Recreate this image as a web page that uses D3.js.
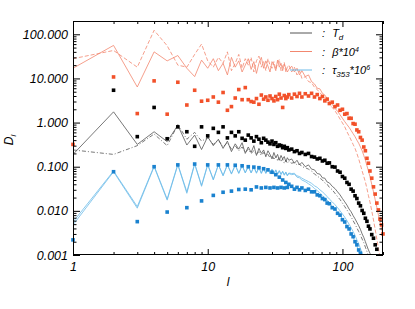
<!DOCTYPE html>
<html><head><meta charset="utf-8">
<script src="https://cdn.jsdelivr.net/npm/d3@7"></script>
<style>
body{margin:0;background:#fff}
svg{display:block}
text{font-family:"Liberation Sans",Arial,sans-serif;font-style:italic;fill:#000}
</style>
</head><body>
<svg id="c" width="415" height="309"></svg>
<script>
// multipole l sampled values
const ells = [1,2,3,4,5,6,7,8,9,10,11,12,13,14,15,16,17,18,19,20,21,22,23,24,25,26,27,28,29,30,31,32,33,34,35,36,37,38,39,40,
  42,44,46,48,50,53,56,59,62,65,
  68,71,74,77,80,84,88,92,96,100,
  104,108,112,116,120,124,128,132,136,140,
  144,148,152,156,160,165,170,175,180,185,
  190,195,200];

// T_d : solid line, dash-dot line, squares
const tdLine = [0.19,1.75,0.32,0.62,0.37,0.87,0.31,0.52,0.245,0.48,
  0.30,0.42,0.26,0.38,0.22,0.33,0.25,0.35,0.20,0.28,
  0.21,0.30,0.18,0.26,0.20,0.24,0.17,0.23,0.19,0.15,
  0.21,0.16,0.19,0.14,0.18,0.15,0.17,0.13,0.16,0.14,
  0.15,0.12,0.14,0.11,0.125,0.10,0.11,0.088,0.085,0.07,
  0.068,0.056,0.055,0.045,0.043,0.036,0.032,0.027,0.023,0.019,
  0.016,0.0135,0.011,0.0095,0.0078,0.0066,0.0055,0.0046,0.0038,0.003,
  0.0025,0.002,0.0016,0.0013,0.0011,0.00085,null,null,null,null,
  null,null,null];
const tdDash = [0.24,0.19,0.30,0.55,0.30,0.90,0.42,0.60,0.38,0.45,
  0.32,0.40,0.28,0.35,0.25,0.30,0.23,0.28,0.21,0.25,
  0.20,0.23,0.19,0.22,0.18,0.21,0.17,0.19,0.16,0.18,
  0.15,0.17,0.14,0.16,0.13,0.15,0.12,0.14,0.12,0.13,
  0.12,0.125,0.11,0.115,0.10,0.095,0.088,0.08,0.068,0.062,
  0.055,0.05,0.043,0.04,0.034,0.03,0.025,0.021,0.018,0.015,
  0.0125,0.0105,0.0088,0.0073,0.006,0.005,0.0041,0.0034,0.0028,0.0023,
  0.0019,0.0015,0.0012,0.00095,null,null,null,null,null,null,
  null,null,null];
const tdPts = [null,5.4,0.48,2.2,0.43,0.80,0.62,0.29,0.80,0.50,
  0.74,0.60,0.80,0.45,0.60,0.50,0.62,0.44,0.40,0.52,
  0.45,0.38,0.48,0.42,0.35,0.44,0.40,0.36,0.33,0.38,
  0.32,0.35,0.29,0.31,0.30,0.27,0.29,0.26,0.27,0.24,
  0.25,0.22,0.23,0.20,0.21,0.19,0.20,0.17,0.165,0.15,
  0.155,0.135,0.14,0.12,0.122,0.10,0.098,0.08,0.075,0.06,
  0.055,0.044,0.04,0.031,0.028,0.022,0.019,0.015,0.013,0.0102,
  0.0088,0.0068,0.0058,0.0045,0.0039,0.0029,0.0024,0.0017,0.00135,0.00098,
  null,null,null];

// beta*10^4
const betaLine = [17,56,6.4,40,25,33,17,11,26,17,
  28,15,22,12,30,18,25,14,20,28,
  16,24,13,22,30,17,25,19,14,24,
  20,15,26,18,22,15,21,17,14,16,
  19,14,17,12,15,11,12,8.5,7.5,6,
  5.8,4.6,4.2,3.5,3.0,2.6,2.1,1.8,1.5,1.25,
  1.05,0.9,0.78,0.66,0.56,0.48,0.4,0.34,0.28,0.23,
  0.18,0.14,0.105,0.08,0.06,0.04,0.027,0.018,0.012,0.008,
  0.0055,0.004,0.0028];
const betaDash = [28,43,18,123,55,20,18,35,60,25,
  18,30,22,40,15,22,35,17,28,20,
  30,14,25,32,18,24,15,28,20,17,
  24,16,22,27,15,19,23,14,18,20,
  14,18,12,15,10,11,8.5,8,6.3,5.6,
  4.7,4.2,3.5,3.1,2.6,2.2,1.85,1.5,1.2,0.98,
  0.8,0.62,0.5,0.4,0.32,0.26,0.2,0.15,0.11,0.08,
  0.06,0.045,0.032,0.022,0.016,0.01,0.0062,0.0038,0.0023,0.0014,
  0.0009,null,null];
const betaPts = [0.32,10.8,1.6,8.8,1.55,8.2,2.5,5.4,3.05,3.2,
  3.8,2.9,4.8,1.9,2.3,3.6,5.6,3.3,6.2,3.3,
  3.0,2.9,3.5,2.6,4.2,3.4,3.8,3.2,4.0,3.5,
  3.1,3.9,3.3,4.4,3.6,2.2,4.1,3.5,3.8,4.3,
  3.6,4.4,3.9,4.6,3.8,4.5,4.0,4.6,3.8,4.3,
  3.5,3.9,3.1,3.4,2.7,2.9,2.3,2.5,1.9,2.0,
  1.55,1.6,1.25,1.25,0.95,0.92,0.68,0.62,0.46,0.4,
  0.28,0.23,0.155,0.12,0.08,0.055,0.035,0.024,0.015,0.0105,
  0.0065,0.0048,0.003];

// tau_353*10^6
const tauLine = [0.0048,0.077,0.0115,0.10,0.0175,0.11,0.025,0.115,0.036,0.11,
  0.05,0.11,0.062,0.11,0.068,0.108,0.07,0.105,0.072,0.10,
  0.072,0.098,0.071,0.095,0.07,0.092,0.07,0.089,0.069,0.086,
  0.068,0.083,0.067,0.08,0.066,0.077,0.064,0.074,0.062,0.07,
  0.066,0.068,0.058,0.056,0.05,0.046,0.041,0.037,0.032,0.029,
  0.025,0.022,0.02,0.0175,0.015,0.0128,0.011,0.0093,0.0079,0.0066,
  0.0055,0.0046,0.0038,0.0031,0.0025,0.002,0.0016,0.0012,0.00095,null,
  null,null,null,null,null,null,null,null,null,null,
  null,null,null];
const tauLine2 = [0.0056,0.08,0.0125,0.104,0.0185,0.114,0.027,0.118,0.038,0.113,
  0.052,0.112,0.064,0.112,0.07,0.11,0.072,0.107,0.074,0.102,
  0.074,0.1,0.073,0.097,0.072,0.094,0.072,0.091,0.071,0.088,
  0.07,0.085,0.069,0.082,0.068,0.079,0.066,0.076,0.064,0.072,
  0.07,0.071,0.062,0.06,0.055,0.05,0.046,0.042,0.037,0.034,
  0.03,0.027,0.024,0.021,0.0185,0.016,0.0138,0.0118,0.01,0.0085,
  0.0072,0.006,0.005,0.0041,0.0034,0.0028,0.0022,0.0018,0.0014,0.0011,
  0.00085,null,null,null,null,null,null,null,null,null,
  null,null,null];
const tauPts = [0.0022,0.077,0.0057,0.10,0.0094,0.11,0.0118,0.115,0.0168,0.11,
  0.0224,0.11,0.0264,0.11,0.028,0.108,0.0305,0.105,0.031,0.10,
  0.030,0.098,0.0348,0.095,0.033,0.09,0.034,0.085,0.033,0.075,
  0.034,0.066,0.033,0.058,0.034,0.05,0.033,0.044,0.034,0.04,
  0.036,0.031,0.034,0.03,0.033,0.029,0.031,0.027,0.027,0.023,
  0.022,0.019,0.018,0.015,0.0145,0.0118,0.011,0.0088,0.008,0.0063,
  0.0056,0.0044,0.0039,0.003,0.0026,0.002,0.0017,0.0013,0.0011,0.00085,
  null,null,null,null,null,null,null,null,null,null,
  null,null,null];

const yMajor = [0.001,0.01,0.1,1,10,100];
const xMajor = [1,10,100];
const legendItems = [
  {color:"#555555", name:"T", sub:"d"},
  {color:"#f2876f", name:"β*10", sup:"4"},
  {color:"#6cbbe8", name:"τ", sub:"353", tail:"*10", sup:"6"}
];

const svg = d3.select("#c");
const L=73, R=383, T=21, B=255;
const x = d3.scaleLog().domain([1,200]).range([L,R]);
const y = d3.scaleLog().domain([0.001,200]).range([B,T]);

svg.append("defs").append("clipPath").attr("id","clip")
  .append("rect").attr("x",L).attr("y",T).attr("width",R-L).attr("height",B-T);

const plot = svg.append("g").attr("clip-path","url(#clip)");
const marks = svg.append("g");

function pairs(vals){ return ells.map((l,i)=>[l,vals[i]]); }
const line = d3.line().defined(d=>d[1]!=null).x(d=>x(d[0])).y(d=>y(d[1]));

function drawLine(vals,color,dash,w){
  plot.append("path").datum(pairs(vals)).attr("d",line)
    .attr("fill","none").attr("stroke",color).attr("stroke-width",w||0.8)
    .attr("stroke-dasharray",dash||null).attr("stroke-linejoin","round");
}
function drawPts(vals,color,s){
  marks.append("g").selectAll("rect")
    .data(pairs(vals).filter(d=>d[1]!=null && d[1]>=0.001 && d[1]<=200)).join("rect")
    .attr("x",d=>x(d[0])-s/2).attr("y",d=>y(d[1])-s/2).attr("width",s).attr("height",s)
    .attr("fill",color);
}

drawLine(betaDash,"#f2876f","4,2");
drawLine(betaLine,"#f2876f");
drawLine(tdDash,"#555555","4,2,1,2");
drawLine(tdLine,"#555555");
drawLine(tauLine2,"#6cbbe8");
drawLine(tauLine,"#6cbbe8");
drawPts(betaPts,"#f2512a",3.6);
drawPts(tdPts,"#000000",3.6);
drawPts(tauPts,"#1a82cf",3.6);

// axes with inward ticks
function minors(lo,hi){
  const out=[];
  for(let e=Math.floor(Math.log10(lo));e<=Math.ceil(Math.log10(hi));e++){
    for(let k=2;k<=9;k++){const v=k*Math.pow(10,e); if(v>=lo&&v<=hi) out.push(v);}
  }
  return out;
}
const xMinor = minors(1,200), yMinor = minors(0.001,200);

function ax(axisGen, tr){
  const g = svg.append("g").attr("transform",tr).call(axisGen);
  g.select(".domain").remove();
  g.selectAll("line").attr("stroke","#000").attr("stroke-width",1);
  return g;
}
const fy = d3.format(".3f");
ax(d3.axisBottom(x).tickValues(xMajor).tickSizeInner(-6).tickSizeOuter(0).tickPadding(7).tickFormat(d=>d),`translate(0,${B})`)
  .selectAll("text").attr("font-size",12.5).attr("font-style","italic").attr("font-family","Liberation Sans, Arial, sans-serif");
ax(d3.axisBottom(x).tickValues(xMinor).tickSizeInner(-3).tickSizeOuter(0).tickFormat(""),`translate(0,${B})`);
ax(d3.axisTop(x).tickValues(xMajor).tickSizeInner(-6).tickSizeOuter(0).tickFormat(""),`translate(0,${T})`);
ax(d3.axisTop(x).tickValues(xMinor).tickSizeInner(-3).tickSizeOuter(0).tickFormat(""),`translate(0,${T})`);
ax(d3.axisLeft(y).tickValues(yMajor).tickSizeInner(-7).tickSizeOuter(0).tickPadding(5).tickFormat(fy),`translate(${L},0)`)
  .selectAll("text").attr("font-size",12.5).attr("font-style","italic").attr("font-family","Liberation Sans, Arial, sans-serif");
ax(d3.axisLeft(y).tickValues(yMinor).tickSizeInner(-3.5).tickSizeOuter(0).tickFormat(""),`translate(${L},0)`);
ax(d3.axisRight(y).tickValues(yMajor).tickSizeInner(-7).tickSizeOuter(0).tickFormat(""),`translate(${R},0)`);
ax(d3.axisRight(y).tickValues(yMinor).tickSizeInner(-3.5).tickSizeOuter(0).tickFormat(""),`translate(${R},0)`);

svg.append("rect").attr("x",L+0.5).attr("y",T+0.5).attr("width",R-L-1).attr("height",B-T-1)
  .attr("fill","none").attr("stroke","#000").attr("stroke-width",1);

// axis titles
svg.append("text").attr("x",228).attr("y",286).attr("text-anchor","middle").attr("font-size",12).text("l");
const yt = svg.append("text").attr("transform","translate(13,140) rotate(-90)").attr("text-anchor","middle").attr("font-size",12);
yt.append("tspan").text("D");
yt.append("tspan").attr("dy",3).attr("font-size",8).text("l");

// legend
const ly = [33,51.5,70];
legendItems.forEach((it,i)=>{
  svg.append("line").attr("x1",290).attr("x2",312).attr("y1",ly[i]).attr("y2",ly[i])
    .attr("stroke",it.color).attr("stroke-width",1);
  const t = svg.append("text").attr("x",322).attr("y",ly[i]+4).attr("font-size",11);
  t.append("tspan").text(": ");
  t.append("tspan").attr("dx",4).text(it.name);
  if(it.sub){ t.append("tspan").attr("dy",3).attr("font-size",8).text(it.sub); }
  if(it.tail){ t.append("tspan").attr("dy",-3).text(it.tail); }
  if(it.sup){ t.append("tspan").attr("dy",-4).attr("font-size",7).text(it.sup); }
});
</script>
</body></html>
